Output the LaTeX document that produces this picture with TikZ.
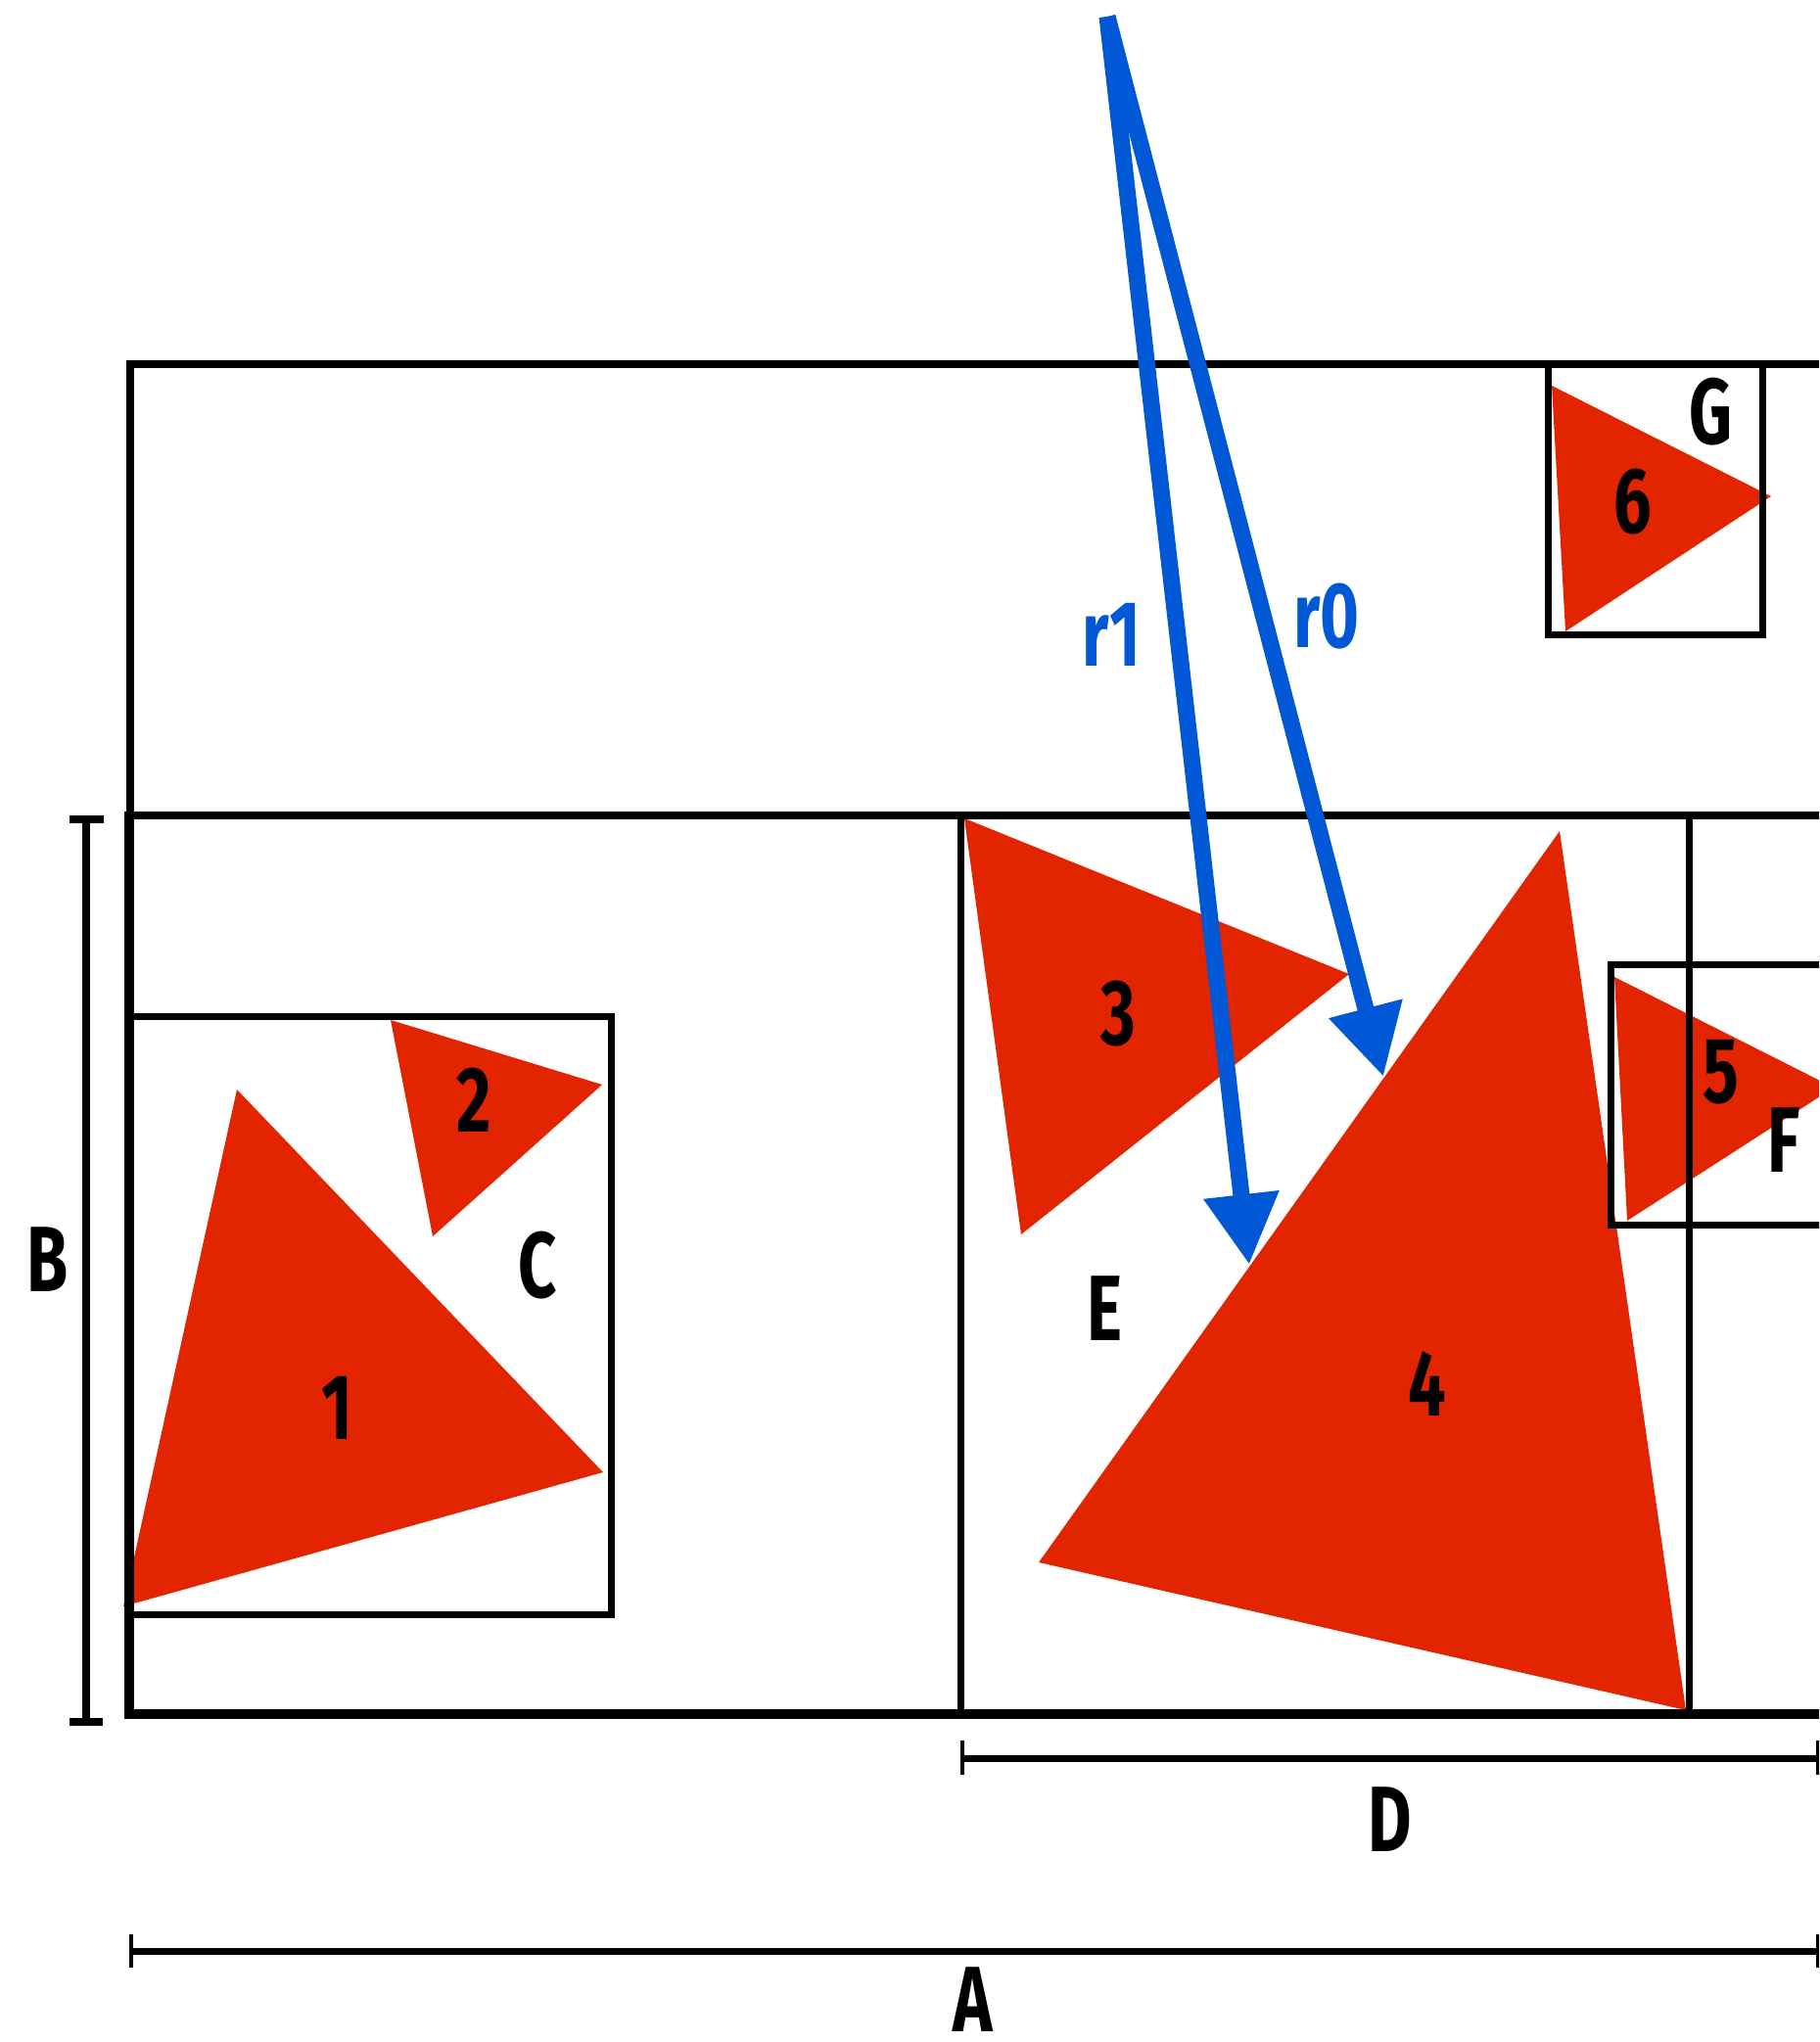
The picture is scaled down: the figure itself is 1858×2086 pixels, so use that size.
\documentclass[tikz,border=0pt]{standalone}
\usepackage{fontspec}
\newfontfamily\labfont{Fira Sans}[FakeStretch=0.72]
\usetikzlibrary{arrows.meta}
\definecolor{tricol}{RGB}{226,37,0}
\definecolor{raycol}{RGB}{0,88,214}
\tikzset{
  lab/.style={font=\labfont\bfseries\fontsize{27pt}{27pt}\selectfont, inner sep=0pt, text=black},
  raylab/.style={lab, text=raycol},
  trifill/.style={fill=tricol, draw=none},
  thinframe/.style={draw=black, line width=0.07cm},
  topframe/.style={draw=black, line width=0.08cm},
  boldframe/.style={draw=black, line width=0.10cm},
  measline/.style={draw=black, line width=0.07cm},
  meastick/.style={draw=black, line width=0.04cm},
  rayline/.style={draw=raycol, line width=0.17cm, -{Triangle[length=0.72cm,width=0.73cm]}}
}
\begin{document}
\begin{tikzpicture}[x=0.01cm, y=-0.01cm]
\clip (0,0) rectangle (1858,2086);
\fill[white] (0,0) rectangle (1858,2086);

% triangles
\fill[trifill] (242,1113) -- (616,1504) -- (126,1641) -- cycle;
\fill[trifill] (399,1042) -- (615,1108) -- (442,1263) -- cycle;
\fill[trifill] (985,836) -- (1378,995) -- (1043,1261) -- cycle;
\fill[trifill] (1593,849) -- (1722,1747) -- (1061,1596) -- cycle;
\fill[trifill] (1649,998) -- (1873,1111) -- (1662,1247) -- cycle;
\fill[trifill] (1585,394) -- (1809,507) -- (1599,645) -- cycle;

% frames
\draw[topframe] (1900,372) -- (133,372) -- (133,833);
\draw[thinframe] (132,833) -- (1900,833);
\draw[boldframe] (132,829) -- (132,1751) -- (1900,1751);
\draw[thinframe] (981,833) -- (981,1751);
\draw[thinframe] (1725,833) -- (1725,1751);
\draw[thinframe] (132,1038) -- (624,1038) -- (624,1649) -- (132,1649);
\draw[thinframe] (1900,985) -- (1645,985) -- (1645,1251) -- (1900,1251);
\draw[thinframe] (1581,372) rectangle (1800,649);

% measures
\coordinate (Bt) at (88,837);
\coordinate (Bb) at (88,1759);
\draw[topframe] (Bt) -- (Bb);
\draw[topframe] (71,837) -- (106,837);
\draw[topframe] (71,1759) -- (105,1759);

\coordinate (Dl) at (983,1796);
\coordinate (Dr) at (1857,1796);
\draw[measline] (Dl) -- (Dr);
\draw[meastick] (983,1778) -- (983,1813);
\draw[meastick] (1857,1778) -- (1857,1813);

\coordinate (Al) at (134,1993);
\coordinate (Ar) at (1857,1993);
\draw[measline] (Al) -- (Ar);
\draw[meastick] (134,1976) -- (134,2010);
\draw[meastick] (1857,1976) -- (1857,2010);

% rays
\coordinate (src) at (1131,17);
\coordinate (tip0) at (1413,1100);
\coordinate (tip1) at (1276,1292);
\draw[rayline] (src) -- (tip1);
\draw[rayline] (src) -- (tip0);

% labels
\node[raylab] (r1) at (1135,648) {r1};
\node[raylab] (r0) at (1355,630) {r0};
\node[lab] (lB) at (49,1287) {B};
\node[lab] (lC) at (549,1293) {C};
\node[lab] (l2) at (484,1124) {2};
\node[lab] (l1) at (344,1438) {1};
\node[lab] (l3) at (1142,1036) {3};
\node[lab] (lE) at (1128,1337) {E};
\node[lab] (l4) at (1458,1414) {4};
\node[lab] (l5) at (1758,1095) {5};
\node[lab] (lF) at (1822,1165) {F};
\node[lab] (l6) at (1668,513) {6};
\node[lab] (lG) at (1748,421) {G};
\node[lab] (lD) at (1420,1859) {D};
\node[lab] (lA) at (994,2043) {A};
\end{tikzpicture}
\end{document}
